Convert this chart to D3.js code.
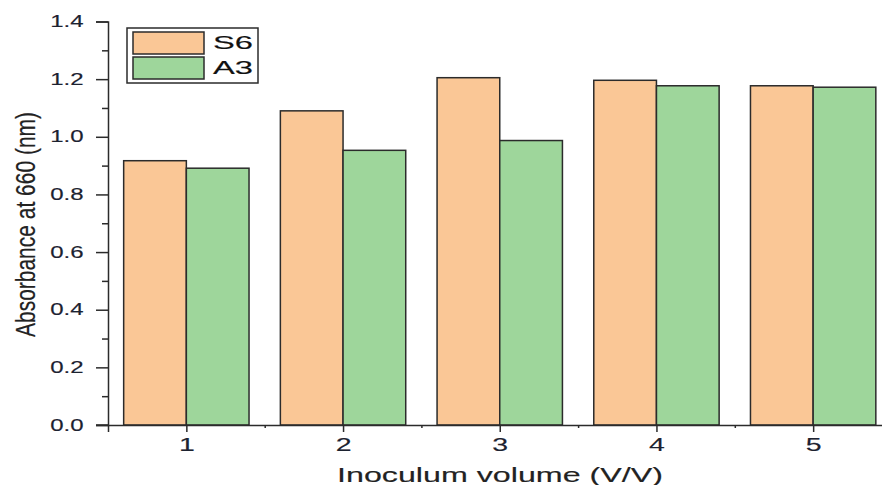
<!DOCTYPE html>
<html>
<head>
<meta charset="utf-8">
<script src="https://cdn.jsdelivr.net/npm/d3@7"></script>
<style>
  html, body { margin: 0; padding: 0; background: #fff; }
  svg { display: block; }
  text { font-family: "Liberation Sans", Arial, sans-serif; stroke-width: 0.15px; }
</style>
</head>
<body>
<svg id="chart" width="882" height="485"></svg>
<script>
// Inoculum volume groups and absorbance readings per strain
const categories = [1, 2, 3, 4, 5];
const seriesNames = ["S6", "A3"];
const s6Values = [0.917, 1.090, 1.205, 1.196, 1.177];
const a3Values = [0.891, 0.953, 0.987, 1.177, 1.172];
const yTicks = [0.0, 0.2, 0.4, 0.6, 0.8, 1.0, 1.2, 1.4];
const yMinorTicks = [0.1, 0.3, 0.5, 0.7, 0.9, 1.1, 1.3];
const xMinorTicks = [1.5, 2.5, 3.5, 4.5];
const colors = { S6: "#FAC796", A3: "#9ED69B" };

const svg = d3.select("#chart");
const axisColor = "#2b2b2b";
const labelColor = "#1c2230";
const stretch = 1.5; // wide glyphs used for all labels

const x = d3.scaleLinear().domain([0.5, 5.5]).range([108, 891.5]);
const y = d3.scaleLinear().domain([0, 1.4]).range([425, 21.5]);
const barW = 0.4; // in category units

const rows = categories.map((c, i) => ({ c, S6: s6Values[i], A3: a3Values[i] }));

// bars
const g = svg.append("g");
seriesNames.forEach((name, si) => {
  g.selectAll(".bar-" + name)
    .data(rows)
    .join("rect")
    .attr("x", d => x(d.c - barW + si * barW))
    .attr("width", d => x(d.c + barW) - x(d.c))
    .attr("y", d => y(d[name]))
    .attr("height", d => y(0) - y(d[name]))
    .attr("fill", colors[name])
    .attr("stroke", axisColor)
    .attr("stroke-width", 1.5);
});

// y axis
const yAxis = svg.append("g")
  .attr("transform", `translate(${x(0.5)},0)`)
  .call(d3.axisLeft(y).tickValues(yTicks).tickFormat(d3.format(".1f")).tickSize(12));
yAxis.select(".domain").attr("stroke", axisColor).attr("stroke-width", 1.5);
yAxis.selectAll(".tick line").attr("stroke", axisColor).attr("stroke-width", 1.5);
yAxis.selectAll(".tick text")
  .attr("x", -24.5 / stretch)
  .attr("transform", `scale(${stretch},1)`)
  .attr("fill", labelColor).attr("stroke", labelColor)
  .style("font-size", "16px");
svg.append("g")
  .attr("transform", `translate(${x(0.5)},0)`)
  .call(d3.axisLeft(y).tickValues(yMinorTicks).tickFormat("").tickSize(6))
  .call(a => a.select(".domain").remove())
  .selectAll(".tick line").attr("stroke", axisColor).attr("stroke-width", 1.5);

// x axis
const xAxis = svg.append("g")
  .attr("transform", `translate(0,${y(0)})`)
  .call(d3.axisBottom(x).tickValues(categories).tickFormat(d3.format("d")).tickSize(7).tickPadding(6));
xAxis.select(".domain").attr("stroke", axisColor).attr("stroke-width", 1.5);
xAxis.selectAll(".tick line").attr("stroke", axisColor).attr("stroke-width", 1.5);
xAxis.selectAll(".tick text")
  .attr("transform", `scale(${stretch},1)`)
  .attr("fill", labelColor).attr("stroke", labelColor)
  .style("font-size", "19px");
svg.append("g")
  .attr("transform", `translate(0,${y(0)})`)
  .call(d3.axisBottom(x).tickValues(xMinorTicks).tickFormat("").tickSize(3))
  .call(a => a.select(".domain").remove())
  .selectAll(".tick line").attr("stroke", axisColor).attr("stroke-width", 1.5);
// extend baseline left to the 0.0 tick
svg.append("line")
  .attr("x1", x(0.5) - 12).attr("x2", x(0.5))
  .attr("y1", y(0)).attr("y2", y(0))
  .attr("stroke", axisColor).attr("stroke-width", 1.5);

// axis titles
svg.append("text")
  .attr("transform", `translate(35,${(112 + 337) / 2}) rotate(-90) scale(1,1.35)`)
  .attr("text-anchor", "middle")
  .attr("textLength", 225).attr("lengthAdjust", "spacingAndGlyphs")
  .attr("fill", "#222").attr("stroke", "#222")
  .style("font-size", "21px")
  .text("Absorbance at 660 (nm)");

svg.append("text")
  .attr("x", 500).attr("y", 481.5)
  .attr("text-anchor", "middle")
  .attr("textLength", 326).attr("lengthAdjust", "spacingAndGlyphs")
  .attr("fill", "#222").attr("stroke", "#222")
  .style("font-size", "21px")
  .text("Inoculum volume (V/V)");

// legend
const legend = svg.append("g");
legend.append("rect")
  .attr("x", 127).attr("y", 28).attr("width", 131).attr("height", 55)
  .attr("fill", "#fff").attr("stroke", axisColor).attr("stroke-width", 1.5);
seriesNames.forEach((name, i) => {
  legend.append("rect")
    .attr("x", 133).attr("y", 32 + i * 25).attr("width", 71).attr("height", 22)
    .attr("fill", colors[name]).attr("stroke", axisColor).attr("stroke-width", 1.5);
  legend.append("text")
    .attr("x", 213).attr("y", 49 + i * 25)
    .attr("textLength", 40).attr("lengthAdjust", "spacingAndGlyphs")
    .attr("fill", "#111").attr("stroke", "#111")
    .style("font-size", "19px")
    .text(name);
});
</script>
</body>
</html>
